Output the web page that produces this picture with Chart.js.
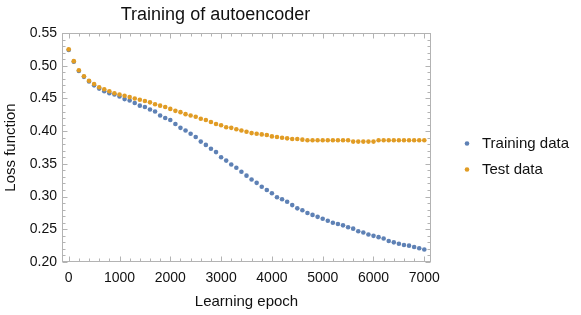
<!DOCTYPE html>
<html>
<head>
<meta charset="utf-8">
<script src="https://cdn.jsdelivr.net/npm/chart.js@4.4.1/dist/chart.umd.min.js"></script>
<style>
  html, body { margin: 0; padding: 0; background: #ffffff; }
  #wrap { width: 581px; height: 315px; }
</style>
</head>
<body>
<div id="wrap"><canvas id="c" width="581" height="315"></canvas></div>
<script>
const epochs = [0,100,200,300,400,500,600,700,800,900,1000,1100,1200,1300,1400,1500,1600,1700,1800,1900,
  2000,2100,2200,2300,2400,2500,2600,2700,2800,2900,3000,3100,3200,3300,3400,3500,3600,3700,3800,3900,
  4000,4100,4200,4300,4400,4500,4600,4700,4800,4900,5000,5100,5200,5300,5400,5500,5600,5700,5800,5900,
  6000,6100,6200,6300,6400,6500,6600,6700,6800,6900,7000];

const trainingLoss = [0.524,0.506,0.492,0.483,0.476,0.470,0.465,0.461,0.458,0.456,
  0.453,0.449,0.447,0.443,0.439,0.437,0.433,0.430,0.424,0.420,
  0.417,0.411,0.405,0.401,0.396,0.391,0.384,0.379,0.373,0.368,
  0.360,0.355,0.349,0.344,0.338,0.332,0.326,0.321,0.315,0.310,
  0.305,0.299,0.296,0.292,0.287,0.282,0.279,0.275,0.272,0.269,
  0.266,0.263,0.260,0.258,0.256,0.253,0.251,0.247,0.245,0.242,
  0.240,0.238,0.236,0.232,0.230,0.228,0.226,0.225,0.223,0.221,0.219];

const testLoss = [0.525,0.507,0.493,0.484,0.477,0.472,0.467,0.464,0.461,0.458,
  0.456,0.454,0.452,0.450,0.448,0.446,0.444,0.441,0.439,0.437,
  0.434,0.431,0.429,0.426,0.424,0.422,0.419,0.417,0.414,0.411,
  0.409,0.406,0.405,0.403,0.401,0.399,0.397,0.396,0.395,0.394,
  0.392,0.391,0.390,0.389,0.388,0.388,0.387,0.386,0.386,0.386,
  0.386,0.386,0.386,0.386,0.386,0.386,0.384,0.384,0.384,0.384,
  0.384,0.386,0.386,0.386,0.386,0.386,0.386,0.386,0.386,0.386,0.386];

const xTickLabels = [0,1000,2000,3000,4000,5000,6000,7000];
const yTickLabels = [0.20,0.25,0.30,0.35,0.40,0.45,0.50,0.55];

const seriesNames = ['Training data', 'Test data'];
const seriesColors = ['#5E81B5', '#E19C24'];

const FONT = "'Liberation Sans', Arial, sans-serif";
const TEXT = '#111111';
const FRAME = '#b3b3b3';

const framePlugin = {
  id: 'mmaFrame',
  beforeDatasetsDraw(chart) {
    const { ctx, chartArea: a, scales } = chart;
    const xs = scales.x, ys = scales.y;
    const L = Math.round(a.left) + 0.5, R = Math.round(a.right) - 0.5;
    const T = Math.round(a.top) + 0.5, B = Math.round(a.bottom) - 0.5;
    ctx.save();
    ctx.strokeStyle = FRAME;
    ctx.lineWidth = 1;
    ctx.strokeRect(L, T, R - L, B - T);
    ctx.beginPath();
    // x ticks (major + minor), bottom and top, inward
    for (let v = -200; v <= 7200; v += 200) {
      if (v < xs.min || v > xs.max) continue;
      const major = xTickLabels.includes(v);
      const len = major ? 5 : 3;
      const px = Math.round(xs.getPixelForValue(v)) + 0.5;
      ctx.moveTo(px, B); ctx.lineTo(px, B - len);
      ctx.moveTo(px, T); ctx.lineTo(px, T + len);
    }
    // y ticks
    for (let k = 20; k <= 55; k++) {
      const v = k / 100;
      const major = k % 5 === 0;
      const len = major ? 5 : 3;
      const py = Math.round(ys.getPixelForValue(v)) + 0.5;
      ctx.moveTo(L, py); ctx.lineTo(L + len, py);
      ctx.moveTo(R, py); ctx.lineTo(R - len, py);
    }
    ctx.stroke();
    ctx.restore();
  },
  afterDraw(chart) {
    const { ctx } = chart;
    ctx.save();
    ctx.font = '15px ' + FONT;
    ctx.textBaseline = 'middle';
    ctx.textAlign = 'left';
    const rows = [143.5, 169.5];
    chart.data.datasets.forEach((ds, i) => {
      ctx.fillStyle = ds.backgroundColor;
      ctx.beginPath();
      ctx.arc(467, rows[i], 2.3, 0, Math.PI * 2);
      ctx.fill();
      ctx.fillStyle = TEXT;
      ctx.fillText(ds.label, 482, rows[i]);
    });
    ctx.restore();
  }
};

new Chart(document.getElementById('c'), {
  type: 'scatter',
  data: {
    datasets: [
      {
        label: seriesNames[0],
        data: epochs.map((e, i) => ({ x: e, y: trainingLoss[i] })),
        backgroundColor: seriesColors[0],
        borderWidth: 0,
        pointRadius: 2.3,
        order: 2
      },
      {
        label: seriesNames[1],
        data: epochs.map((e, i) => ({ x: e, y: testLoss[i] })),
        backgroundColor: seriesColors[1],
        borderWidth: 0,
        pointRadius: 2.3,
        order: 1
      }
    ]
  },
  options: {
    responsive: false,
    animation: false,
    devicePixelRatio: 1,
    events: [],
    layout: { padding: { left: 0, right: 150, top: 0, bottom: 0 } },
    plugins: {
      legend: { display: false },
      tooltip: { enabled: false },
      title: {
        display: true,
        text: 'Training of autoencoder',
        color: TEXT,
        font: { family: FONT, size: 18, weight: 'normal' },
        padding: { top: 4, bottom: 7.4 }
      }
    },
    scales: {
      x: {
        type: 'linear',
        min: -132,
        max: 7132,
        grid: { display: false, drawTicks: false },
        border: { display: false },
        afterBuildTicks: s => { s.ticks = xTickLabels.map(v => ({ value: v })); },
        afterFit: s => { s.height = 53; },
        ticks: {
          padding: 8,
          color: TEXT,
          font: { family: FONT, size: 14 },
          maxRotation: 0,
          autoSkip: false,
          callback: v => String(v)
        },
        title: {
          display: true,
          text: 'Learning epoch',
          color: TEXT,
          font: { family: FONT, size: 15 },
          padding: { top: 0, bottom: 4 }
        }
      },
      y: {
        type: 'linear',
        min: 0.2,
        max: 0.55,
        grid: { display: false, drawTicks: false },
        border: { display: false },
        afterBuildTicks: s => { s.ticks = yTickLabels.map(v => ({ value: v })); },
        afterFit: s => { s.width = 62; },
        ticks: {
          padding: 5,
          color: TEXT,
          font: { family: FONT, size: 14 },
          autoSkip: false,
          callback: v => Number(v).toFixed(2)
        },
        title: {
          display: true,
          text: 'Loss function',
          color: TEXT,
          font: { family: FONT, size: 15 },
          padding: { top: 2, bottom: 0 }
        }
      }
    }
  },
  plugins: [framePlugin]
});
</script>
</body>
</html>
